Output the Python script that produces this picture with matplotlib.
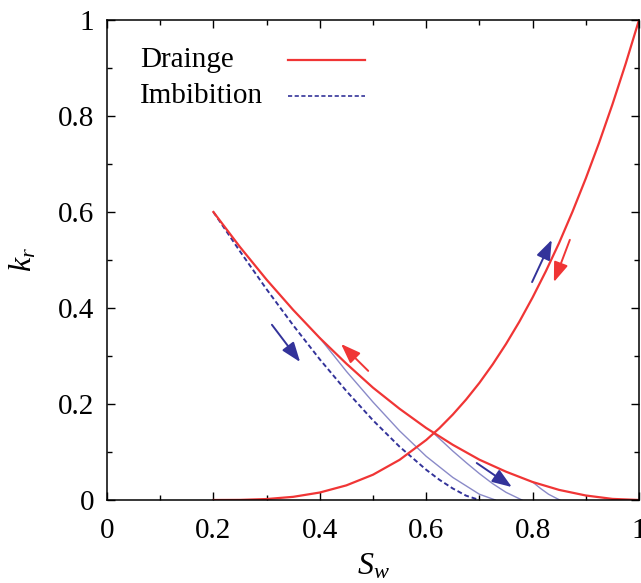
import matplotlib.pyplot as plt
from matplotlib.ticker import MultipleLocator

plt.rcParams['font.family'] = ['Liberation Serif', 'DejaVu Serif']
plt.rcParams['mathtext.fontset'] = 'custom'
plt.rcParams['mathtext.it'] = 'Liberation Serif:italic'
plt.rcParams['mathtext.rm'] = 'Liberation Serif'

# drainage curves
sw_w = [0.20, 0.25, 0.30, 0.35, 0.40, 0.45, 0.50, 0.55, 0.60, 0.625,
        0.65, 0.675, 0.70, 0.725, 0.75, 0.775, 0.80, 0.825, 0.85, 0.875,
        0.90, 0.925, 0.95, 0.975, 1.00]
krw_d = [0.0, 0.0002, 0.002, 0.0066, 0.0156, 0.0305, 0.0527, 0.0837, 0.125, 0.1499,
         0.178, 0.2093, 0.244, 0.2826, 0.325, 0.3713, 0.422, 0.4768, 0.536, 0.6007,
         0.670, 0.7443, 0.824, 0.9091, 1.0]
sw_d = [0.20, 0.25, 0.30, 0.35, 0.40, 0.45, 0.50, 0.55, 0.60,
        0.65, 0.70, 0.75, 0.80, 0.85, 0.90, 0.95, 1.00]
krn_d = [0.6, 0.527, 0.459, 0.396, 0.3375, 0.284, 0.234, 0.190, 0.15,
         0.115, 0.084, 0.059, 0.0375, 0.021, 0.0094, 0.0023, 0.0]

# imbibition curve
sw_i = [0.20, 0.25, 0.30, 0.35, 0.40, 0.45, 0.50, 0.55, 0.60, 0.625, 0.65, 0.675, 0.70]
krn_i = [0.6, 0.518, 0.439, 0.364, 0.293, 0.227, 0.166, 0.111, 0.063, 0.042, 0.024, 0.009, 0.0]

# scanning curves
sw_s1 = [0.40, 0.45, 0.50, 0.55, 0.60, 0.65, 0.70, 0.73]
kr_s1 = [0.3375, 0.268, 0.204, 0.144, 0.091, 0.047, 0.012, 0.0]
sw_s2 = [0.614, 0.65, 0.675, 0.70, 0.725, 0.75, 0.78]
kr_s2 = [0.139, 0.102, 0.078, 0.055, 0.034, 0.016, 0.0]
sw_s3 = [0.80, 0.815, 0.83, 0.851]
kr_s3 = [0.0375, 0.024, 0.012, 0.0]

# arrows: (tail, head, colour)
arrows = [((0.310, 0.365), (0.363, 0.2875), 'b'),
          ((0.491, 0.269), (0.440, 0.325), 'r'),
          ((0.695, 0.077), (0.761, 0.027), 'b'),
          ((0.799, 0.454), (0.836, 0.542), 'b'),
          ((0.870, 0.542), (0.840, 0.454), 'r')]

red = '#f03535'
blue = '#33339a'
light = '#8a8ac8'

fig = plt.figure(figsize=(6.41, 5.83), dpi=100)
ax = fig.add_axes([107/641, 1-500/583, 532/641, 480/583])

ax.plot(sw_s1, kr_s1, color=light, lw=1.0)
ax.plot(sw_s2, kr_s2, color=light, lw=1.0)
ax.plot(sw_s3, kr_s3, color=light, lw=1.0)
imb_ls = (0, (2.5, 1.5))
ax.plot(sw_i, krn_i, color=blue, lw=1.4, ls=imb_ls)
ax.plot(sw_d, krn_d, color=red, lw=1.6)
ax.plot(sw_w, krw_d, color=red, lw=1.6)

for tail, head, c in arrows:
    col = blue if c == 'b' else red
    ax.annotate('', xy=head, xytext=tail,
                arrowprops=dict(arrowstyle='-|>,head_length=0.6,head_width=0.22',
                                color=col, lw=1.4, mutation_scale=20,
                                shrinkA=0, shrinkB=0))

# gnuplot-style key: text left, sample right
ax.text(0.062, 0.917, 'Drainge', transform=ax.transAxes, fontsize=21, va='center')
ax.text(0.062, 0.842, 'Imbibition', transform=ax.transAxes, fontsize=21, va='center')
ax.plot([0.340, 0.485], [0.917, 0.917], transform=ax.transAxes, color=red, lw=1.6)
ax.plot([0.340, 0.485], [0.842, 0.842], transform=ax.transAxes, color=blue, lw=1.2, ls=imb_ls)

ax.set_xlim(0, 1)
ax.set_ylim(0, 1)
ax.xaxis.set_minor_locator(MultipleLocator(0.1))
ax.yaxis.set_minor_locator(MultipleLocator(0.1))
ax.set_xticks([0, 0.2, 0.4, 0.6, 0.8, 1.0], ['0', '0.2', '0.4', '0.6', '0.8', '1'])
ax.set_yticks([0, 0.2, 0.4, 0.6, 0.8, 1.0], ['0', '0.2', '0.4', '0.6', '0.8', '1'])
ax.tick_params(which='both', direction='in', top=True, right=True, width=1.0)
ax.tick_params(which='major', length=6, labelsize=21)
ax.tick_params(which='minor', length=3.5)
ax.tick_params(axis='x', pad=13)
ax.tick_params(axis='y', pad=9)
for s in ax.spines.values():
    s.set_linewidth(1.1)

ax.set_xlabel('$S_w$', fontsize=23, labelpad=6)
ax.set_ylabel('$k_r$', fontsize=23, labelpad=14)

fig.savefig('out.png', dpi=100)
